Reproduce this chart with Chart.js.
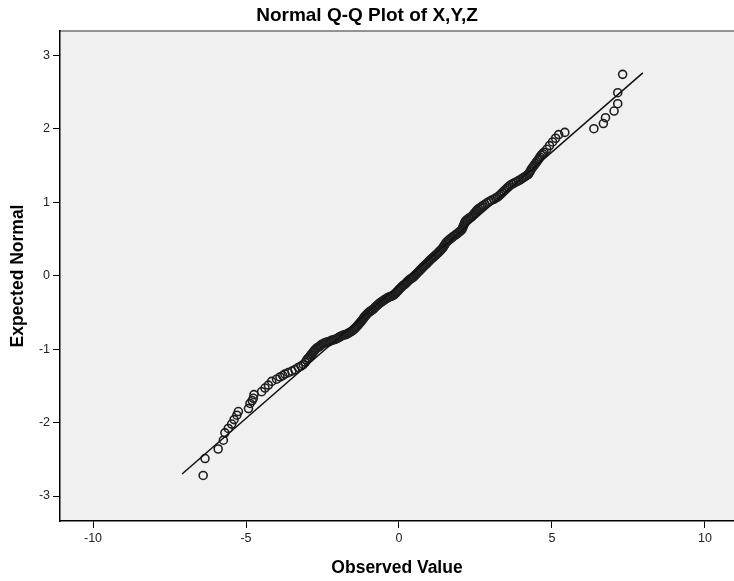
<!DOCTYPE html>
<html>
<head>
<meta charset="utf-8">
<title>Normal Q-Q Plot of X,Y,Z</title>
<script src="https://cdn.jsdelivr.net/npm/chart.js@4.4.1/dist/chart.umd.min.js"></script>
<style>
  html, body { margin: 0; padding: 0; background: #fff; }
  #wrap { width: 734px; height: 581px; }
</style>
</head>
<body>
<div id="wrap"><canvas id="qq" width="734" height="581"></canvas></div>
<script>
const observed = [
  -6.40, -6.34, -5.91, -5.74, -5.69, -5.58, -5.47, -5.39, -5.30, -5.25,
  -4.92, -4.87, -4.80, -4.76, -4.74, -4.49, -4.38, -4.27, -4.16, -4.00,
  -3.89, -3.80, -3.73, -3.62, -3.50, -3.40, -3.29, -3.20, -3.13, -3.06,
  -3.02, -2.95, -2.88, -2.80, -2.74, -2.66, -2.58, -2.50, -2.40, -2.30,
  -2.20, -2.10, -2.00, -1.92, -1.82, -1.72, -1.64, -1.55, -1.47, -1.40,
  -1.33, -1.27, -1.21, -1.16, -1.11, -1.06, -0.99, -0.92, -0.85, -0.78,
  -0.70, -0.62, -0.55, -0.48, -0.40, -0.32, -0.24, -0.16, -0.09, -0.02,
  0.05, 0.12, 0.19, 0.26, 0.33, 0.40, 0.47, 0.54, 0.61, 0.68,
  0.75, 0.82, 0.90, 0.97, 1.04, 1.12, 1.20, 1.28, 1.35, 1.42,
  1.48, 1.54, 1.62, 1.71, 1.80, 1.90, 1.99, 2.06, 2.10, 2.14,
  2.19, 2.28, 2.37, 2.45, 2.53, 2.60, 2.70, 2.81, 2.95, 3.10,
  3.22, 3.33, 3.43, 3.53, 3.63, 3.76, 3.90, 4.02, 4.13, 4.23,
  4.29, 4.36, 4.43, 4.50, 4.57, 4.65, 4.74, 4.83, 4.92, 5.02,
  5.12, 5.22, 5.42, 6.37, 6.68, 6.75, 7.03, 7.15, 7.15, 7.31
];
const expected = [
  -2.72, -2.49, -2.36, -2.24, -2.14, -2.08, -2.02, -1.96, -1.90, -1.85,
  -1.81, -1.74, -1.70, -1.67, -1.62, -1.58, -1.53, -1.49, -1.44, -1.41,
  -1.38, -1.36, -1.34, -1.32, -1.30, -1.28, -1.25, -1.23, -1.21, -1.18,
  -1.15, -1.12, -1.08, -1.04, -1.01, -0.98, -0.96, -0.93, -0.91, -0.90,
  -0.88, -0.87, -0.85, -0.83, -0.81, -0.80, -0.78, -0.76, -0.73, -0.70,
  -0.67, -0.64, -0.61, -0.58, -0.55, -0.53, -0.50, -0.48, -0.46, -0.43,
  -0.40, -0.37, -0.35, -0.33, -0.31, -0.29, -0.28, -0.26, -0.23, -0.20,
  -0.17, -0.14, -0.12, -0.09, -0.06, -0.04, -0.02, 0.01, 0.04, 0.07,
  0.10, 0.13, 0.16, 0.19, 0.22, 0.25, 0.28, 0.31, 0.34, 0.37,
  0.41, 0.45, 0.48, 0.51, 0.54, 0.57, 0.60, 0.63, 0.67, 0.71,
  0.75, 0.78, 0.80, 0.84, 0.88, 0.91, 0.94, 0.97, 1.01, 1.04,
  1.07, 1.11, 1.15, 1.19, 1.23, 1.26, 1.29, 1.32, 1.35, 1.38,
  1.42, 1.47, 1.51, 1.55, 1.59, 1.64, 1.68, 1.72, 1.77, 1.82,
  1.87, 1.92, 1.95, 2.00, 2.07, 2.15, 2.24, 2.34, 2.49, 2.74
];

// the packed middle of the band, where the circles overlap into a solid run
const observedMid = [
  -2.98, -2.91, -2.84, -2.77, -2.70, -2.62, -2.54, -2.45, -2.35, -2.25,
  -2.15, -2.05, -1.96, -1.87, -1.77, -1.68, -1.60, -1.51, -1.43, -1.36,
  -1.30, -1.24, -1.18, -1.13, -1.08, -1.02, -0.95, -0.88, -0.81, -0.74,
  -0.66, -0.58, -0.51, -0.44, -0.36, -0.28, -0.20, -0.12, -0.05, 0.01,
  0.08, 0.15, 0.22, 0.29, 0.36, 0.43, 0.50, 0.57, 0.64, 0.71,
  0.78, 0.86, 0.93, 1.00, 1.08, 1.16, 1.24, 1.31, 1.38, 1.45,
  1.51, 1.58, 1.66, 1.75, 1.85, 1.94, 2.03, 2.08, 2.12, 2.16,
  2.23, 2.32, 2.41, 2.49, 2.56, 2.65, 2.75, 2.88, 3.02, 3.16,
  3.28, 3.38, 3.48, 3.58, 3.70, 3.83, 3.96, 4.07, 4.18, 4.26,
  4.32, 4.40, 4.47, 4.54, 4.61, 4.70
];
const expectedMid = [
  -1.13, -1.10, -1.06, -1.02, -0.99, -0.97, -0.94, -0.92, -0.905, -0.89,
  -0.875, -0.86, -0.84, -0.82, -0.805, -0.79, -0.77, -0.745, -0.715, -0.685,
  -0.655, -0.625, -0.595, -0.565, -0.54, -0.515, -0.49, -0.47, -0.445, -0.415,
  -0.385, -0.36, -0.34, -0.32, -0.30, -0.285, -0.27, -0.245, -0.215, -0.185,
  -0.155, -0.13, -0.105, -0.075, -0.05, -0.03, -0.005, 0.025, 0.055, 0.085,
  0.115, 0.145, 0.175, 0.205, 0.235, 0.265, 0.295, 0.325, 0.355, 0.39,
  0.43, 0.465, 0.495, 0.525, 0.555, 0.585, 0.615, 0.65, 0.69, 0.73,
  0.765, 0.79, 0.82, 0.86, 0.895, 0.925, 0.955, 0.99, 1.025, 1.055,
  1.09, 1.13, 1.17, 1.21, 1.245, 1.275, 1.305, 1.335, 1.365, 1.40,
  1.445, 1.49, 1.53, 1.57, 1.615, 1.66
];

// end points of the reference line
const refLineX = [-7.09, 7.97];
const refLineY = [-2.70, 2.76];

const xTickValues = [-10, -5, 0, 5, 10];
const yTickValues = [-3, -2, -1, 0, 1, 2, 3];

const FONT = "'Liberation Sans', Arial, sans-serif";

// grey plot background and the thin frame line on top
const plotBackground = {
  id: 'plotBackground',
  beforeDraw(chart) {
    const { ctx, chartArea: a } = chart;
    ctx.save();
    ctx.fillStyle = '#f0f0f0';
    ctx.fillRect(a.left, a.top, a.right - a.left, a.bottom - a.top);
    ctx.strokeStyle = '#707070';
    ctx.lineWidth = 1.5;
    ctx.beginPath();
    ctx.moveTo(a.left, a.top);
    ctx.lineTo(a.right, a.top);
    ctx.stroke();
    ctx.restore();
  }
};

const pts = observed.map((x, i) => ({ x: x, y: expected[i] }))
  .concat(observedMid.map((x, i) => ({ x: x, y: expectedMid[i] })));

new Chart(document.getElementById('qq'), {
  type: 'scatter',
  data: {
    datasets: [
      {
        type: 'line',
        data: refLineX.map((x, i) => ({ x: x, y: refLineY[i] })),
        borderColor: '#111',
        borderWidth: 1.5,
        pointRadius: 0,
        fill: false
      },
      {
        data: pts,
        pointStyle: 'circle',
        pointRadius: 4,
        borderColor: '#1e1e1e',
        borderWidth: 1.6,
        backgroundColor: 'rgba(0,0,0,0)'
      }
    ]
  },
  options: {
    responsive: false,
    animation: false,
    layout: { padding: 0, autoPadding: false },
    plugins: {
      legend: { display: false },
      tooltip: { enabled: false },
      title: {
        display: true,
        text: 'Normal Q-Q Plot of X,Y,Z',
        color: '#000',
        font: { family: FONT, size: 19, weight: 'bold' },
        padding: { top: 4, bottom: 4.2 }
      }
    },
    scales: {
      x: {
        type: 'linear',
        min: -11.08,
        max: 10.95,
        afterFit(s) { s.height = 60; },
        afterBuildTicks(s) { s.ticks = xTickValues.map(v => ({ value: v })); },
        grid: { drawOnChartArea: false, drawTicks: true, tickLength: 7, color: '#000', lineWidth: 1 },
        border: { display: true, color: '#000', width: 1.5 },
        ticks: { color: '#222', padding: 3, font: { family: FONT, size: 12.5 } },
        title: {
          display: true,
          text: 'Observed Value',
          color: '#000',
          font: { family: FONT, size: 17.5, weight: 'bold' },
          padding: { top: 0, bottom: 2.5 }
        }
      },
      y: {
        type: 'linear',
        min: -3.34,
        max: 3.33,
        afterFit(s) { s.width = 60; },
        afterBuildTicks(s) { s.ticks = yTickValues.map(v => ({ value: v })); },
        grid: { drawOnChartArea: false, drawTicks: true, tickLength: 7, color: '#000', lineWidth: 1 },
        border: { display: true, color: '#000', width: 1.5 },
        ticks: { color: '#222', padding: 3, font: { family: FONT, size: 12.5 } },
        title: {
          display: true,
          text: 'Expected Normal',
          color: '#000',
          font: { family: FONT, size: 17.5, weight: 'bold' },
          padding: { top: 7.5, bottom: 0 }
        }
      }
    }
  },
  plugins: [plotBackground]
});
</script>
</body>
</html>
